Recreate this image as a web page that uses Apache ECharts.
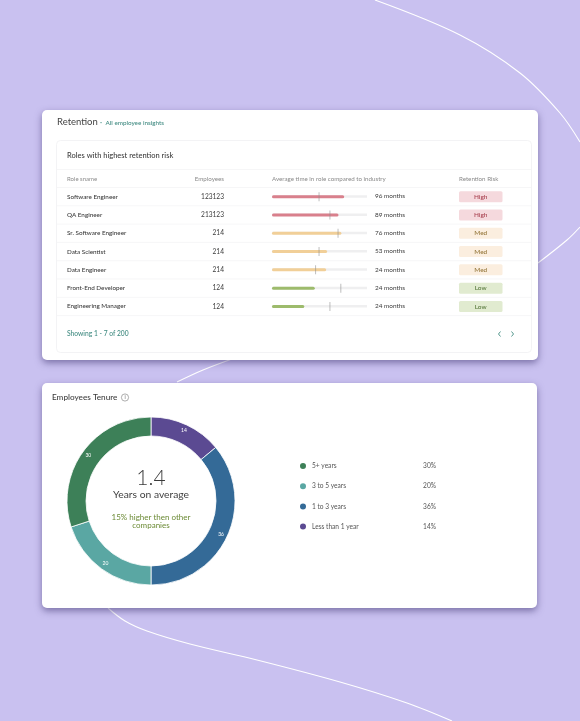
<!DOCTYPE html>
<html>
<head>
<meta charset="utf-8">
<title>Retention</title>
<style>
  html, body { margin: 0; padding: 0; background: #c9c1f0; }
  #chart { width: 580px; height: 721px; }
</style>
<script src="https://cdn.jsdelivr.net/npm/echarts@6/dist/echarts.min.js"></script>
</head>
<body>
<div id="chart"></div>
<script>
var roles = ['Software Engineer', 'QA Engineer', 'Sr. Software Engineer', 'Data Scientist', 'Data Engineer', 'Front-End Developer', 'Engineering Manager'];
var employees = ['123123', '213123', '214', '214', '214', '124', '124'];
var roleTime = [76, 70, 73, 58, 57, 45, 34];
var industryTime = [49.5, 61, 69.5, 49.5, 46, 72.5, 61];
var months = [96, 89, 76, 53, 24, 24, 24];
var risk = ['High', 'High', 'Med', 'Med', 'Med', 'Low', 'Low'];

var tenureNames = ['Less than 1 year', '1 to 3 years', '3 to 5 years', '5+ years'];
var tenureValues = [14, 36, 20, 30];
var legendOrder = ['5+ years', '3 to 5 years', '1 to 3 years', 'Less than 1 year'];

var riskStyle = {
  High: { bar: '#d9808c', fill: '#f5d9dd', text: '#a8404f' },
  Med: { bar: '#f1cf98', fill: '#fbeedf', text: '#94763a' },
  Low: { bar: '#9dbb6c', fill: '#e1ebd0', text: '#55763a' }
};
var tenureColors = ['#5b4a92', '#346a97', '#5aa7a3', '#3d8058'];

var font = 'Lato, "Noto Sans", sans-serif';
var rowTop = 187.5;
var rowH = 18.3;

function text(x, y, str, size, color, align, weight) {
  return {
    type: 'text', x: x, y: y, z: 10, silent: true,
    style: {
      text: str, fill: color, align: align || 'left', verticalAlign: 'middle',
      font: (weight || 400) + ' ' + size + 'px ' + font
    }
  };
}
function line(x1, y1, x2, y2, color) {
  return {
    type: 'line', z: 1, silent: true,
    shape: { x1: x1, y1: y1, x2: x2, y2: y2 },
    style: { stroke: color, lineWidth: 0.6 }
  };
}
function curve(points) {
  return {
    type: 'polyline', z: 0, silent: true,
    shape: { points: points, smooth: 0.35 },
    style: { stroke: '#ffffff', lineWidth: 1.1, fill: 'none' }
  };
}
function card(x, y, w, h) {
  return {
    type: 'rect', z: 1, silent: true,
    shape: { x: x, y: y, width: w, height: h, r: 5 },
    style: { fill: '#ffffff', shadowBlur: 7, shadowOffsetY: 3, shadowColor: 'rgba(60,50,110,0.55)' }
  };
}

var g = [];
// background curves
g.push(curve([[375, 0], [460, 35], [520, 73], [560, 113], [580, 142]]));
g.push(curve([[538, 263], [567, 240], [580, 227]]));
g.push(curve([[177, 382], [203, 370], [232, 359]]));
g.push(curve([[108, 608], [125, 621], [147, 631], [190, 644], [257, 660], [340, 682], [407, 703], [452, 721]]));

g.push(card(42, 110, 496, 250));
g.push(card(42, 383, 495, 225));

// retention table
g.push(text(57, 121.5, 'Retention', 9.5, '#444'));
g.push(text(100, 122, '·', 8, '#3f8a80'));
g.push(text(105.5, 122.5, 'All employee insights', 6.3, '#3f8a80', 'left', 500));
g.push({
  type: 'rect', z: 1, silent: true,
  shape: { x: 56.5, y: 140.5, width: 475, height: 212, r: 4 },
  style: { fill: '#ffffff', stroke: '#f0f0f2', lineWidth: 0.8 }
});
g.push(text(67, 155.5, 'Roles with highest retention risk', 7.5, '#3d3d3d', 'left', 500));
g.push(line(57, 169.5, 531, 169.5, '#f0f0f2'));
g.push(text(67, 179, 'Role sname', 6, '#8a8a8a'));
g.push(text(224, 179, 'Employees', 6.2, '#8a8a8a', 'right'));
g.push(text(272, 179, 'Average time in role compared to industry', 6.2, '#8a8a8a'));
g.push(text(459, 179, 'Retention Risk', 6.2, '#8a8a8a'));

roles.forEach(function(role, i) {
  var top = rowTop + rowH * i;
  var cy = top + rowH / 2;
  g.push(line(57, top, 531, top, '#f0f0f2'));
  g.push(text(67, cy, role, 6.3, '#3a3a3a', 'left', 500));
  g.push(text(224, cy, employees[i], 6.6, '#3a3a3a', 'right'));
  var st = riskStyle[risk[i]];
  g.push({
    type: 'rect', z: 3, silent: true,
    shape: { x: 459, y: cy - 5.5, width: 43.5, height: 11, r: 1.5 },
    style: { fill: st.fill }
  });
  g.push(text(480.7, cy, risk[i], 6.5, st.text, 'center', 500));
});
g.push(line(57, rowTop + rowH * 7, 531, rowTop + rowH * 7, '#f0f0f2'));
g.push(text(67, 334, 'Showing 1 - 7 of 200', 6.7, '#3f8a80', 'left', 500));
[[500.5, 498.5], [511.5, 513.5]].forEach(function(c) {
  g.push({
    type: 'polyline', z: 10, silent: true,
    shape: { points: [[c[0], 331.5], [c[1], 334], [c[0], 336.5]] },
    style: { stroke: '#3f8a80', lineWidth: 0.9, fill: 'none' }
  });
});

// tenure card
g.push(text(52, 397.5, 'Employees Tenure', 8.2, '#3d3d3d', 'left', 500));
g.push({
  type: 'circle', z: 10, silent: true,
  shape: { cx: 125, cy: 397.5, r: 3.6 },
  style: { fill: 'none', stroke: '#777', lineWidth: 0.6 }
});
g.push(text(125, 397.7, 'i', 5, '#666', 'center'));
g.push(text(151, 478.5, '1.4', 21, '#3a3a3a', 'center', 300));
g.push(text(151, 495, 'Years on average', 10.3, '#3f3f3f', 'center'));
g.push(text(151, 517, '15% higher then other', 8, '#6b8a35', 'center'));
g.push(text(151, 525.5, 'companies', 8, '#6b8a35', 'center'));

var chart = echarts.init(document.getElementById('chart'));

chart.setOption({
  animation: false,
  backgroundColor: '#c9c1f0',
  textStyle: { fontFamily: font },
  graphic: { elements: g },
  grid: { left: 272, top: rowTop, width: 95, height: rowH * 7 },
  xAxis: { type: 'value', min: 0, max: 100, show: false },
  yAxis: { type: 'category', data: roles, inverse: true, show: false },
  legend: {
    orient: 'vertical',
    left: 293,
    top: 456,
    itemWidth: 8,
    itemHeight: 8,
    itemGap: 10.2,
    icon: 'circle',
    data: legendOrder,
    formatter: function(name) {
      var v = tenureValues[tenureNames.indexOf(name)];
      return '{n|' + name + '}{p|' + v + '%}';
    },
    textStyle: {
      rich: {
        n: { width: 101, fontSize: 6.6, color: '#555', fontFamily: font, lineHeight: 10 },
        p: { width: 23, align: 'right', fontSize: 6.6, color: '#555', fontFamily: font, lineHeight: 10 }
      }
    }
  },
  series: [
    {
      type: 'bar',
      barWidth: 2.5,
      barGap: '-100%',
      silent: true,
      data: roles.map(function() { return 100; }),
      itemStyle: { color: '#efeff0' },
      label: {
        show: true,
        position: 'right',
        distance: 8,
        fontSize: 6.4,
        color: '#3a3a3a',
        formatter: function(p) { return months[p.dataIndex] + ' months'; }
      }
    },
    {
      type: 'bar',
      barWidth: 3,
      barGap: '-100%',
      silent: true,
      data: roleTime.map(function(v, i) {
        return { value: v, itemStyle: { color: riskStyle[risk[i]].bar, borderRadius: 1.5 } };
      })
    },
    {
      type: 'scatter',
      silent: true,
      symbol: 'rect',
      symbolSize: [0.7, 9],
      itemStyle: { color: '#8c8c8c' },
      z: 4,
      data: industryTime.map(function(v, i) { return [v, i]; })
    },
    {
      type: 'pie',
      silent: true,
      center: [151, 501],
      radius: [65, 84],
      startAngle: 90,
      data: tenureNames.map(function(n, i) {
        return { name: n, value: tenureValues[i], itemStyle: { color: tenureColors[i] } };
      }),
      itemStyle: { borderColor: '#ffffff', borderWidth: 0.8 },
      label: {
        show: true,
        position: 'inside',
        formatter: '{c}',
        fontSize: 5,
        color: '#ffffff'
      },
      labelLine: { show: false }
    }
  ]
});
</script>
</body>
</html>
